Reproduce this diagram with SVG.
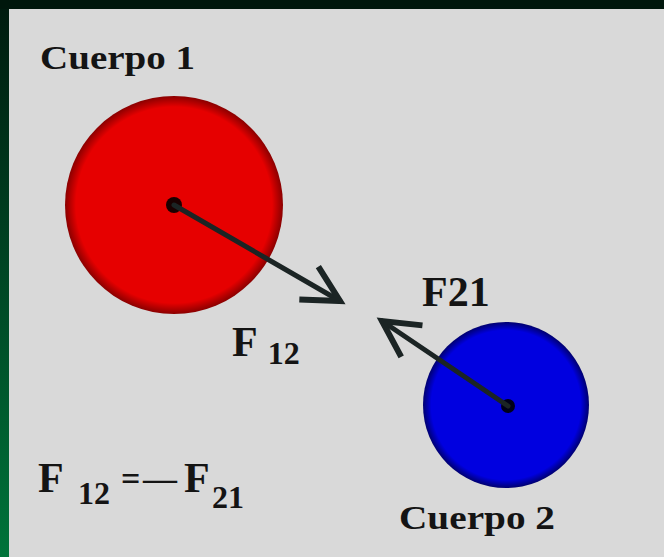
<svg xmlns="http://www.w3.org/2000/svg" width="664" height="557" viewBox="0 0 664 557">
<style>
.t{font-family:"Liberation Serif","Times New Roman",serif;font-weight:bold;fill:#141414}
.conn{stroke:#1b2424;stroke-width:5;fill:none;stroke-linecap:round}
</style>
<defs>
<linearGradient id="side" x1="0" y1="0" x2="0" y2="1">
<stop offset="0" stop-color="#001a0e"/>
<stop offset="1" stop-color="#00733a"/>
</linearGradient>
<radialGradient id="red" cx="0.5" cy="0.5" r="0.5">
<stop offset="0.9" stop-color="#e60000"/>
<stop offset="1" stop-color="#8a0000"/>
</radialGradient>
<radialGradient id="blue" cx="0.5" cy="0.5" r="0.5">
<stop offset="0.9" stop-color="#0000e0"/>
<stop offset="1" stop-color="#000070"/>
</radialGradient>
<marker id="chev" markerUnits="userSpaceOnUse" markerWidth="60" markerHeight="60" viewBox="-50 -30 60 60" refX="0" refY="0" orient="auto">
<path d="M-36,-19 L0,0 L-36,19" fill="none" stroke="#1b2424" stroke-width="6" stroke-linejoin="miter"/>
</marker>
</defs>
<rect x="0" y="0" width="664" height="557" fill="url(#side)"/>
<rect x="0" y="0" width="664" height="9" fill="#00170c"/>
<rect x="9" y="9" width="655" height="548" fill="#d9d9d9"/>

<g id="cuerpo1">
<circle cx="174" cy="205" r="109" fill="url(#red)"/>
<circle cx="174" cy="205" r="8" fill="#1a0000"/>
<text class="t" x="40" y="69" font-size="34" textLength="155" lengthAdjust="spacingAndGlyphs">Cuerpo 1</text>
</g>

<g id="cuerpo2">
<circle cx="506" cy="405" r="83" fill="url(#blue)"/>
<circle cx="508" cy="406" r="7" fill="#000018"/>
<text class="t" x="399" y="529" font-size="34" textLength="156" lengthAdjust="spacingAndGlyphs">Cuerpo 2</text>
</g>

<g id="connectors">
<line class="conn" x1="174" y1="205" x2="340" y2="301" marker-end="url(#chev)"/>
<line class="conn" x1="508" y1="406" x2="382" y2="321" marker-end="url(#chev)"/>
</g>

<g id="labels">
<text class="t" x="232" y="356" font-size="42">F<tspan font-size="32" dx="10" dy="8">12</tspan></text>
<text class="t" x="422" y="306" font-size="42">F21</text>
<text class="t" font-size="42"><tspan x="38" y="492">F</tspan><tspan x="78" y="504" font-size="32">12</tspan><tspan x="121" y="490" font-size="34">=</tspan><tspan x="143" y="490" font-size="34">—</tspan><tspan x="184" y="492">F</tspan><tspan x="212" y="508" font-size="32">21</tspan></text>
</g>
</svg>
